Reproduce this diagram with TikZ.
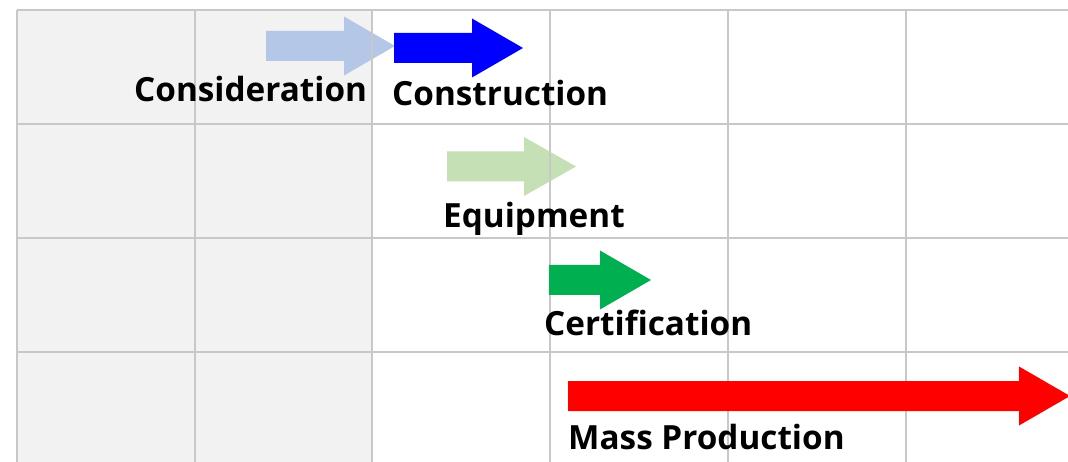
\documentclass[tikz,border=0pt]{standalone}
\usepackage{fontspec}
\setmainfont{Open Sans}
\usetikzlibrary{calc}

\definecolor{cellgray}{HTML}{F2F2F2}
\definecolor{gridgray}{HTML}{C8C8C8}
\definecolor{paleblue}{HTML}{B4C7E7}
\definecolor{palegreen}{HTML}{C5E0B4}
\definecolor{solidblue}{HTML}{0000FF}
\definecolor{solidgreen}{HTML}{00B050}
\definecolor{solidred}{HTML}{FF0000}

\tikzset{
  gridline/.style={draw=gridgray, line width=1.3pt},
  label/.style={anchor=base west, inner sep=0pt, font=\fontsize{33.3}{33.3}\selectfont\bfseries},
}

% block arrow: shaft start, head base, tip, centre line, colour
\newcommand{\ganttarrow}[5]{%
  \fill[#5] (#1,#4-15) -- (#2,#4-15) -- (#2,#4-29.5) -- (#3,#4)
    -- (#2,#4+29.5) -- (#2,#4+15) -- (#1,#4+15) -- cycle;}

\begin{document}
\begin{tikzpicture}[x=1pt,y=-1pt]
\useasboundingbox (0,0) rectangle (1068,462);
\fill[white] (0,0) rectangle (1068,462);
\fill[cellgray] (17,10) rectangle (372,462);

\ganttarrow{266}{344}{395}{46}{paleblue}
\ganttarrow{447}{524}{576}{166.5}{palegreen}

% grid
\foreach \gx in {17,195,372,550,728,906}
  \draw[gridline] (\gx,10) -- (\gx,462);
\foreach \gy in {10,124,238,352}
  \draw[gridline] (17,\gy) -- (1068,\gy);

\ganttarrow{394}{472}{523}{48}{solidblue}
\ganttarrow{549}{600}{651}{280}{solidgreen}
\ganttarrow{568}{1019}{1070}{396}{solidred}

\node[label] (lconsider) at (134,102) {Consideration};
\node[label] (lconstruct) at (392,106) {Construction};
\node[label] (lequip) at (443,228) {Equipment};
\node[label] (lcert) at (544,335) {Certification};
\node[label] (lmass) at (568,449) {Mass Production};
\end{tikzpicture}
\end{document}
